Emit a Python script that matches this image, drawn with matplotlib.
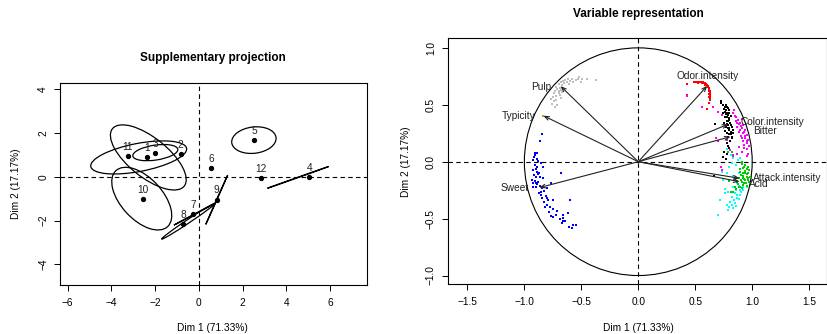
import matplotlib
matplotlib.use("Agg")
import matplotlib.pyplot as plt
from matplotlib.patches import Ellipse, Circle

plt.rcParams['font.family'] = ['Liberation Sans', 'DejaVu Sans']
plt.rcParams['font.size'] = 7.3

# ---- left panel: supplementary projection ----
prod_labels = ['1', '2', '3', '4', '5', '6', '7', '8', '9', '10', '11', '12']
prod_x = [-2.35, -0.83, -1.99, 5.05, 2.52, 0.57, -0.25, -0.71, 0.82, -2.56, -3.25, 2.83]
prod_y = [0.88, 1.02, 1.07, -0.03, 1.67, 0.38, -1.72, -2.16, -1.05, -1.03, 0.94, -0.05]

# confidence ellipses: centre x, centre y, full width, full height, angle
ell_cx = [-2.31, -2.75, -1.99, 4.54, 2.52, -0.20, -0.48, 0.82, -2.61]
ell_cy = [0.88, 0.88, 1.10, -0.03, 1.67, -1.71, -2.03, -1.05, -1.00]
ell_w = [4.2, 4.46, 2.08, 2.97, 2.04, 2.12, 2.94, 2.46, 3.48]
ell_h = [1.8, 1.28, 0.68, 0.02, 1.2, 0.02, 0.16, 0.02, 1.9]
ell_ang = [-38.6, 10.8, 8.5, 19.5, 6.8, 27.9, 33.7, 66.0, -47.2]

# ---- right panel: variable representation ----
var_names = ['Pulp', 'Typicity', 'Sweet', 'Odor.intensity', 'Color.intensity',
             'Bitter', 'Attack.intensity', 'Acid']
var_x = [-0.682, -0.834, -0.869, 0.606, 0.79, 0.81, 0.89, 0.89]
var_y = [0.664, 0.404, -0.228, 0.667, 0.33, 0.22, -0.146, -0.176]

gray_x = [-0.72, -0.70, -0.68, -0.66, -0.64, -0.71, -0.69, -0.67, -0.65, -0.73, -0.70, -0.68, -0.66,
          -0.63, -0.62, -0.74, -0.72, -0.70, -0.60, -0.61, -0.58, -0.55, -0.53, -0.50, -0.49, -0.45,
          -0.37, -0.57, -0.52, -0.75, -0.76, -0.73, -0.72, -0.69, -0.74, -0.71, -0.68, -0.77, -0.67]
gray_y = [0.66, 0.68, 0.70, 0.71, 0.72, 0.64, 0.65, 0.67, 0.69, 0.62, 0.62, 0.63, 0.65,
          0.70, 0.73, 0.60, 0.58, 0.60, 0.71, 0.68, 0.73, 0.72, 0.725, 0.70, 0.73, 0.73,
          0.72, 0.70, 0.74, 0.57, 0.51, 0.48, 0.54, 0.585, 0.53, 0.50, 0.56, 0.55, 0.61]

blue_x = [-0.849, -0.863, -0.907, -0.892, -0.916, -0.892, -0.922, -0.878, -0.857, -0.907, -0.887,
          -0.840, -0.922, -0.892, -0.869, -0.916, -0.898, -0.863, -0.834, -0.907, -0.878, -0.922,
          -0.892, -0.863, -0.898, -0.849, -0.828, -0.869, -0.857, -0.810, -0.849, -0.790, -0.828,
          -0.752, -0.805, -0.775, -0.819, -0.746, -0.711, -0.770, -0.746, -0.664, -0.658, -0.614,
          -0.664, -0.673, -0.600, -0.606, -0.570, -0.585, -0.547, -0.682, -0.770, -0.805, -0.936,
          -0.927, -0.91, -0.90, -0.88, -0.85, -0.80, -0.78, -0.72, -0.69, -0.64, -0.90]
blue_y = [0.243, 0.182, 0.079, 0.074, 0.044, 0.021, 0.015, 0.009, -0.008, -0.029, -0.043,
          -0.049, -0.073, -0.087, -0.096, -0.117, -0.131, -0.131, -0.146, -0.166, -0.175, -0.184,
          -0.196, -0.213, -0.225, -0.234, -0.254, -0.278, -0.292, -0.301, -0.322, -0.336, -0.351,
          -0.336, -0.380, -0.395, -0.395, -0.418, -0.430, -0.477, -0.489, -0.468, -0.498, -0.454,
          -0.518, -0.541, -0.336, -0.571, -0.556, -0.586, -0.556, -0.096, -0.184, -0.234, -0.161,
          -0.219, 0.06, -0.06, -0.11, -0.27, -0.32, -0.44, -0.47, -0.50, -0.52, -0.19]

red_x = [0.431, 0.489, 0.500, 0.513, 0.525, 0.536, 0.546, 0.556, 0.567, 0.577, 0.586, 0.594, 0.602,
         0.609, 0.614, 0.618, 0.622, 0.624, 0.626, 0.627, 0.629, 0.630, 0.630, 0.630, 0.629, 0.627,
         0.606, 0.425, 0.623, 0.52, 0.56, 0.59, 0.61, 0.618, 0.621, 0.622]
red_y = [0.683, 0.700, 0.702, 0.703, 0.703, 0.703, 0.702, 0.700, 0.698, 0.695, 0.690, 0.683, 0.676,
         0.668, 0.660, 0.651, 0.641, 0.630, 0.620, 0.610, 0.600, 0.589, 0.578, 0.566, 0.554, 0.542,
         0.460, 0.586, 0.518, 0.695, 0.692, 0.676, 0.655, 0.625, 0.595, 0.565]

black_x = [0.723, 0.741, 0.761, 0.770, 0.782, 0.747, 0.791, 0.761, 0.799, 0.776, 0.805, 0.752, 0.791,
           0.820, 0.770, 0.799, 0.782, 0.811, 0.791, 0.820, 0.805, 0.776, 0.791, 0.752, 0.741, 0.673,
           0.664, 0.78, 0.80, 0.81, 0.79, 0.81, 0.83, 0.81, 0.82, 0.77, 0.75, 0.79, 0.76, 0.80, 0.78,
           0.77, 0.73, 0.77, 0.79, 0.80, 0.76, 0.78, 0.80, 0.78, 0.80, 0.83, 0.80]
black_y = [0.519, 0.498, 0.478, 0.454, 0.431, 0.425, 0.410, 0.390, 0.381, 0.361, 0.343, 0.337, 0.323,
           0.308, 0.302, 0.279, 0.255, 0.243, 0.220, 0.205, 0.185, 0.161, 0.138, 0.088, 0.038, 0.331,
           -0.126, 0.48, 0.45, 0.40, 0.36, 0.32, 0.28, 0.26, 0.22, 0.42, 0.46, 0.30, 0.27, 0.12, 0.07,
           0.02, 0.53, 0.50, 0.47, 0.43, 0.44, 0.39, 0.37, 0.33, 0.30, 0.25, 0.24]

magenta_x = [0.425, 0.556, 0.659, 0.703, 0.732, 0.829, 0.858, 0.878, 0.908, 0.864, 0.893, 0.922, 0.869,
             0.908, 0.937, 0.887, 0.922, 0.952, 0.899, 0.937, 0.966, 0.916, 0.952, 0.975, 0.928, 0.887,
             0.952, 0.908, 0.869, 0.957, 0.834, 0.776, 0.703, 0.805, 0.723, 0.732, 0.829, 0.85, 0.88,
             0.90, 0.93, 0.94, 0.91, 0.89, 0.95, 0.93, 0.96, 0.86, 0.84, 0.68]
magenta_y = [0.580, 0.484, 0.484, 0.440, 0.410, 0.431, 0.396, 0.367, 0.372, 0.343, 0.337, 0.323, 0.308,
             0.293, 0.279, 0.264, 0.249, 0.235, 0.226, 0.205, 0.191, 0.185, 0.161, 0.138, 0.147, 0.126,
             0.109, 0.088, 0.068, 0.050, 0.038, 0.191, 0.185, 0.103, -0.044, -0.073, 0.059, 0.40, 0.33,
             0.31, 0.26, 0.23, 0.21, 0.28, 0.18, 0.12, 0.07, 0.36, 0.45, 0.21]

green_x = [0.908, 0.937, 0.922, 0.951, 0.893, 0.937, 0.966, 0.916, 0.951, 0.887, 0.928, 0.966, 0.908,
           0.946, 0.878, 0.916, 0.893, 0.858, 0.834, 0.799, 0.981, 0.975, 0.82, 0.79, 0.93, 0.95, 0.92,
           0.94, 0.96, 0.90, 0.93, 0.95, 0.91, 0.88, 0.96, 0.94, 0.92, 0.90, 0.87, 0.81, 0.85, 0.97,
           0.89, 0.91]
green_y = [-0.020, -0.029, -0.058, -0.067, -0.088, -0.096, -0.102, -0.126, -0.131, -0.146, -0.155,
           -0.161, -0.175, -0.184, -0.196, -0.205, -0.225, -0.243, -0.263, -0.167, -0.131, -0.073,
           0.088, 0.088, -0.05, -0.11, -0.14, -0.16, -0.14, -0.16, -0.19, -0.21, -0.23, -0.22, -0.05,
           -0.08, -0.10, -0.12, -0.18, -0.27, -0.22, -0.18, -0.06, 0.0]

cyan_x = [0.820, 0.732, 0.776, 0.834, 0.864, 0.834, 0.893, 0.790, 0.849, 0.893, 0.761, 0.820, 0.870,
          0.805, 0.849, 0.776, 0.828, 0.790, 0.703, 0.717, 0.741, 0.922, 0.887, 0.811, 0.834, 0.878,
          0.916, 0.951, 0.776, 0.86, 0.87, 0.88, 0.84, 0.82, 0.86, 0.80, 0.90, 0.88, 0.85, 0.80, 0.86,
          0.89, 0.76]
cyan_y = [-0.014, -0.088, -0.102, -0.126, -0.190, -0.219, -0.249, -0.263, -0.278, -0.293, -0.278,
          -0.307, -0.322, -0.351, -0.366, -0.381, -0.410, -0.424, -0.468, -0.337, -0.161, -0.219,
          -0.102, 0.059, 0.030, 0.015, -0.249, -0.219, 0.109, -0.25, -0.29, -0.33, -0.34, -0.38, -0.39,
          -0.40, -0.27, -0.21, -0.16, -0.05, -0.03, 0.03, -0.24]

typ_x = [-0.834]
typ_y = [0.404]

W, H = 827, 334
fig = plt.figure(figsize=(W / 100, H / 100), dpi=100)


def style_axes(ax):
    for s in ax.spines.values():
        s.set_linewidth(0.8)
    ax.tick_params(direction='out', length=4, width=0.7, labelsize=7.3)
    ax.tick_params(axis='x', pad=5.5)
    ax.tick_params(axis='y', pad=4.5)
    for lab in ax.get_yticklabels():
        lab.set_rotation(90)
        lab.set_va('center')


# left
ax1 = fig.add_axes([60 / W, 1 - 285 / H, 306.7 / W, 202.3 / H])
ax1.set_xlim(-6.35, 7.68)
ax1.set_ylim(-4.94, 4.29)
ax1.set_xticks([-6, -4, -2, 0, 2, 4, 6])
ax1.set_yticks([-4, -2, 0, 2, 4])
ax1.axhline(0, color='black', lw=0.8, ls=(0, (4, 3)))
ax1.axvline(0, color='black', lw=0.8, ls=(0, (4, 3)))
for cx, cy, w, h, a in zip(ell_cx, ell_cy, ell_w, ell_h, ell_ang):
    ax1.add_patch(Ellipse((cx, cy), w, h, angle=a, fill=False, lw=0.9, ec='black'))
ax1.plot(prod_x, prod_y, 'o', color='black', ms=2.8, ls='none')
for lab, x, y in zip(prod_labels, prod_x, prod_y):
    ax1.annotate(lab, (x, y), xytext=(0, 6.7), textcoords='offset points',
                 ha='center', va='center', fontsize=7.3, color='#222222')
style_axes(ax1)

# right
ax2 = fig.add_axes([447.7 / W, 1 - 284.3 / H, 379 / W, 246 / H])
ax2.set_xlim(-1.673, 1.654)
ax2.set_ylim(-1.077, 1.084)
ax2.set_xticks([-1.5, -1.0, -0.5, 0.0, 0.5, 1.0, 1.5])
ax2.set_yticks([-1.0, -0.5, 0.0, 0.5, 1.0])
ax2.axhline(0, color='black', lw=0.8, ls=(0, (4, 3)))
ax2.axvline(0, color='black', lw=0.8, ls=(0, (4, 3)))
ax2.add_patch(Circle((0, 0), 1, fill=False, lw=0.8, ec='black'))
clouds = [(gray_x, gray_y, '#bebebe'), (blue_x, blue_y, '#0000ff'), (red_x, red_y, '#ff0000'),
          (magenta_x, magenta_y, '#ff00ff'), (black_x, black_y, 'black'),
          (cyan_x, cyan_y, '#00ffff'), (green_x, green_y, '#00cd00'),
          (typ_x, typ_y, '#c8961e')]
for xs, ys, c in clouds:
    ax2.plot(xs, ys, 's', color=c, ms=2.0, mew=0, ls='none')
for x, y in zip(var_x, var_y):
    ax2.annotate('', xy=(x, y), xytext=(0, 0),
                 arrowprops=dict(arrowstyle='->,head_length=0.45,head_width=0.18',
                                 lw=0.8, color='#222222', shrinkA=0, shrinkB=0))
# label placement
ax2.text(-0.760, 0.660, 'Pulp', ha='right', va='center', color='#222222')
ax2.text(-0.898, 0.404, 'Typicity', ha='right', va='center', color='#222222')
ax2.text(-0.957, -0.228, 'Sweet', ha='right', va='center', color='#222222')
ax2.text(0.606, 0.753, 'Odor.intensity', ha='center', va='center', color='#222222')
ax2.text(0.893, 0.351, 'Color.intensity', ha='left', va='center', color='#222222')
ax2.text(1.010, 0.267, 'Bitter', ha='left', va='center', color='#222222')
ax2.text(1.007, -0.143, 'Attack.intensity', ha='left', va='center', color='#222222')
ax2.text(0.972, -0.196, 'Acid', ha='left', va='center', color='#222222')
style_axes(ax2)

# titles and axis labels
fig.text(213.3 / W, 1 - 58.3 / H, 'Supplementary projection', ha='center', va='center',
         fontsize=8.5, fontweight='bold')
fig.text(638.3 / W, 1 - 14 / H, 'Variable representation', ha='center', va='center',
         fontsize=8.5, fontweight='bold')
fig.text(212 / W, 1 - 328 / H, 'Dim 1 (71.33%)', ha='center', va='center')
fig.text(638.3 / W, 1 - 328 / H, 'Dim 1 (71.33%)', ha='center', va='center')
fig.text(16 / W, 1 - 184 / H, 'Dim 2 (17.17%)', ha='center', va='center', rotation=90)
fig.text(406 / W, 1 - 162 / H, 'Dim 2 (17.17%)', ha='center', va='center', rotation=90)

fig.savefig('out.png', dpi=100)
